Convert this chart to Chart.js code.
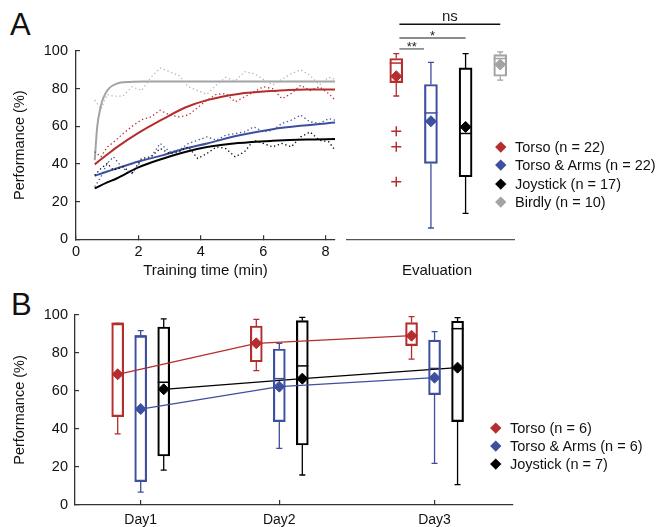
<!DOCTYPE html>
<html>
<head>
<meta charset="utf-8">
<script src="https://cdn.jsdelivr.net/npm/chart.js@4.4.0/dist/chart.umd.min.js"></script>
<style>
body { margin: 0; background: #fff; }
#wrap { position: relative; width: 661px; height: 527px; font-family: "Liberation Sans", Arial, sans-serif; color: #111; }
canvas { position: absolute; }
.panel { position: absolute; font-size: 31px; line-height: 31px; }
.lab { position: absolute; font-size: 14.5px; line-height: 18px; white-space: nowrap; }
.dia { position: absolute; width: 7.5px; height: 7.5px; transform: rotate(45deg); }
</style>
</head>
<body>
<div id="wrap">
  <div class="panel" style="left:10px; top:8.6px;">A</div>
  <div class="panel" style="left:11px; top:289.3px;">B</div>
  <canvas id="aLine" width="340" height="280" style="left:0; top:0;"></canvas>
  <canvas id="aBox" width="321" height="280" style="left:340px; top:0;"></canvas>
  <canvas id="bBox" width="661" height="247" style="left:0; top:280px;"></canvas>
  <div class="lab" style="left:437px; top:261px; font-size:15px; transform:translateX(-50%);">Evaluation</div>
</div>
<script>
// Panel A, learning curves (fit = solid, raw = dotted)
const fitTime = [0.6, 1, 1.3, 2, 2.8, 3.5, 4.2, 5.2, 6.3, 7.4, 8.3];
const torsoFit = [39.8, 45, 48.8, 56.5, 64, 70, 73.9, 77.2, 78.8, 79.5, 79.6];
const armsFit = [33.7, 36, 37.6, 41.3, 44.7, 48.2, 50.9, 55.1, 58.5, 60.6, 62];
const joyFit = [27, 30.2, 32.3, 38.2, 42.9, 46.4, 49, 51.1, 52.3, 53, 53.2];
const birdTime = [0.6, 0.68, 0.79, 0.89, 1.05, 1.31, 1.73, 2.2, 8.3];
const birdFit = [42, 59.7, 70.3, 75.6, 80, 82.7, 83.6, 83.8, 83.8];

const rawTime = [0.6, 0.8, 1.0, 1.2, 1.5, 1.8, 2.1, 2.4, 2.7, 3.0, 3.3, 3.6, 3.9, 4.2, 4.5, 4.8, 5.1, 5.4, 5.7, 6.0, 6.3, 6.6, 6.9, 7.2, 7.5, 7.8, 8.1, 8.3];
const birdRaw = [74, 69, 77, 76, 76, 81, 79, 86, 91, 89, 87, 81, 79, 77, 82, 86, 84, 89, 88, 85, 82, 85, 88, 90, 87, 82, 86, 85];
const torsoRaw = [46.5, 43.8, 49, 51.5, 56, 60, 63.5, 65, 68.5, 66, 65, 66, 70, 73.9, 77, 77.4, 73, 75.6, 78.3, 81, 80, 74.7, 77.4, 81.8, 79, 81, 77.4, 73.9];
const armsRaw = [27.9, 33.2, 40.3, 43.8, 37.6, 35, 42, 43.8, 50.9, 46.5, 47.3, 50.9, 52.6, 54.4, 52.6, 55.3, 56.2, 57, 59.7, 57, 58, 61.5, 63.3, 65.9, 62.4, 61.5, 64.1, 63.3];
const joyRaw = [34, 37.6, 40.3, 36.7, 38.5, 35, 42.9, 43.8, 48.2, 45.6, 46.5, 49.1, 42.9, 45.6, 49.1, 48.2, 43.8, 46.5, 52.6, 50.9, 49.1, 50.9, 49.1, 54.4, 57, 52.6, 51.8, 47.3];

// Panel A, evaluation box plots
const evalLegend = ['Torso (n = 22)', 'Torso & Arms (n = 22)', 'Joystick (n = 17)', 'Birdly (n = 10)'];
const evalMin = [76.1, 6.0, 13.8, 84.5];
const evalQ1 = [83.2, 40.3, 33.2, 86.6];
const evalMed = [93.6, 67.1, 56.2, 96];
const evalQ3 = [96, 82.2, 91, 98.1];
const evalMax = [98.6, 94, 98.6, 99.5];
const evalMean = [86.6, 62.7, 59.7, 92.8];
const torsoOutliers = [57.4, 49.1, 30.5];

// Panel B, per day
const dayLabels = ['Day1', 'Day2', 'Day3'];
const dayPos = [1, 2, 3.12];
const dayLegend = ['Torso (n = 6)', 'Torso & Arms (n = 6)', 'Joystick (n = 7)'];
const torsoMinB = [37.4, 70.7, 76.8];
const torsoQ1B = [46.5, 75.4, 83.9];
const torsoMedB = [95.6, 85, 89];
const torsoQ3B = [95.6, 94.2, 96];
const torsoMaxB = [95.6, 97.7, 99.1];
const torsoMeanB = [68.8, 85.1, 89.1];
const armsMinB = [6.8, 29.8, 21.9];
const armsQ1B = [12.3, 43.9, 58.1];
const armsMedB = [89, 66.5, 71.9];
const armsQ3B = [89, 82.1, 86.8];
const armsMaxB = [91.8, 85.1, 91.2];
const armsMeanB = [50.5, 62.3, 67];
const joyMinB = [18.4, 15.8, 10.7];
const joyQ1B = [25.8, 31.6, 43.9];
const joyMedB = [64.6, 73.2, 92.8];
const joyQ3B = [93.7, 97, 96.7];
const joyMaxB = [98, 98.8, 98.6];
const joyMeanB = [60.9, 66.5, 72.3];

const RED = '#b52d2d', BLUE = '#3d4f9f', BLACK = '#000000', GRAY = '#a3a3a3', LGRAY = '#b5b5b5';
const evalColors = [RED, BLUE, BLACK, GRAY];

Chart.defaults.font.family = '"Liberation Sans", Arial, sans-serif';
Chart.defaults.font.size = 14;
Chart.defaults.color = '#111';
Chart.defaults.animation = false;
Chart.defaults.plugins.legend.display = false;
Chart.defaults.plugins.tooltip.enabled = false;

function pts(xs, ys) {
    return xs.map((x, i) => ({ x: x, y: ys[i] }));
}

function fitLine(xs, ys, color) {
    return { data: pts(xs, ys), borderColor: color, borderWidth: 2, pointRadius: 0, cubicInterpolationMode: 'monotone' };
}

function rawLine(ys, color) {
    return { data: pts(rawTime, ys), borderColor: color, borderWidth: 1.3, borderDash: [1.3, 2.7], pointRadius: 0, tension: 0 };
}

// whiskers, caps and medians, drawn with the chart's scales
const boxPlugin = {
    id: 'boxWhiskers',
    beforeDatasetsDraw(chart, args, opts) {
        const ctx = chart.ctx, x = chart.scales.x, y = chart.scales.y;
        ctx.save();
        opts.boxes.forEach(b => {
            const px = x.getPixelForValue(b.x);
            const yMax = y.getPixelForValue(b.max), yMin = y.getPixelForValue(b.min);
            ctx.strokeStyle = b.color;
            ctx.lineWidth = 1.3;
            ctx.beginPath();
            ctx.moveTo(px, y.getPixelForValue(b.q3)); ctx.lineTo(px, yMax);
            ctx.moveTo(px, y.getPixelForValue(b.q1)); ctx.lineTo(px, yMin);
            ctx.moveTo(px - opts.cap, yMax); ctx.lineTo(px + opts.cap, yMax);
            ctx.moveTo(px - opts.cap, yMin); ctx.lineTo(px + opts.cap, yMin);
            ctx.stroke();
            const yMed = y.getPixelForValue(b.med);
            ctx.lineWidth = 1.5;
            ctx.beginPath();
            ctx.moveTo(px - opts.half, yMed); ctx.lineTo(px + opts.half, yMed);
            ctx.stroke();
        });
        ctx.restore();
    }
};

// significance brackets above the evaluation boxes (from/to in box units)
const sigBars = [
    { from: 1.09, to: 1.8, level: 101.1, label: '**', color: '#666', size: 13, dy: 2 },
    { from: 1.09, to: 3, level: 106.9, label: '*', color: '#666', size: 13, dy: 2 },
    { from: 1.09, to: 4, level: 114.2, label: 'ns', color: '#111', size: 15, dy: -3.4 }
];
const sigPlugin = {
    id: 'sig',
    afterDraw(chart) {
        const ctx = chart.ctx, x = chart.scales.x, y = chart.scales.y;
        ctx.save();
        sigBars.forEach(s => {
            const x1 = x.getPixelForValue(s.from), x2 = x.getPixelForValue(s.to);
            const py = y.getPixelForValue(s.level);
            ctx.strokeStyle = s.color;
            ctx.lineWidth = 1.3;
            ctx.beginPath();
            ctx.moveTo(x1, py); ctx.lineTo(x2, py);
            ctx.stroke();
            ctx.fillStyle = '#222';
            ctx.font = s.size + 'px "Liberation Sans", Arial, sans-serif';
            ctx.textAlign = 'center';
            ctx.textBaseline = 'alphabetic';
            ctx.fillText(s.label, (x1 + x2) / 2, py + s.dy);
        });
        ctx.restore();
    }
};

const yTicks = { stepSize: 20, padding: 12, color: '#111', font: { size: 14.5 } };
const inwardGrid = { display: true, drawOnChartArea: false, drawTicks: true, tickLength: -4, color: '#333', lineWidth: 1.2, offset: false };

// ---- Panel A: training curves
new Chart(document.getElementById('aLine'), {
    type: 'line',
    data: {
        datasets: [
            rawLine(birdRaw, LGRAY), rawLine(torsoRaw, RED), rawLine(armsRaw, BLUE), rawLine(joyRaw, BLACK),
            fitLine(birdTime, birdFit, GRAY), fitLine(fitTime, torsoFit, RED),
            fitLine(fitTime, armsFit, BLUE), fitLine(fitTime, joyFit, BLACK)
        ]
    },
    options: {
        responsive: false,
        layout: { padding: { top: 51, right: 5, left: 0, bottom: 0 } },
        scales: {
            x: {
                type: 'linear', min: 0, max: 8.3,
                ticks: { stepSize: 2, includeBounds: false, padding: 8, maxRotation: 0, font: { size: 14.5 } },
                grid: inwardGrid,
                border: { color: '#333', width: 1.3 },
                title: { display: true, text: 'Training time (min)', padding: 0, font: { size: 15 } },
                afterFit: s => { s.height = 40.7; }
            },
            y: {
                min: 0, max: 100,
                ticks: yTicks,
                grid: inwardGrid,
                border: { color: '#333', width: 1.3 },
                title: { display: true, text: 'Performance (%)', padding: { top: 11 }, font: { size: 14.5 } },
                afterFit: s => { s.width = 76; }
            }
        }
    }
});

// ---- Panel A: evaluation
const evalX = evalMin.map((v, i) => i + 1);
new Chart(document.getElementById('aBox'), {
    type: 'bar',
    data: {
        datasets: [
            {
                data: evalX.map((x, i) => ({ x: x, y: [evalQ1[i], evalQ3[i]] })),
                backgroundColor: 'rgba(0,0,0,0)', borderColor: evalColors, borderWidth: 1.5,
                borderSkipped: false, barThickness: 13
            },
            {
                type: 'scatter', data: pts(evalX, evalMean), pointStyle: 'rectRot', pointRadius: 5.5,
                backgroundColor: evalColors, borderColor: evalColors, borderWidth: 1
            },
            {
                type: 'scatter', data: torsoOutliers.map(v => ({ x: 1, y: v })), pointStyle: 'cross',
                pointRadius: 5, borderColor: RED, borderWidth: 1.5
            }
        ]
    },
    options: {
        responsive: false,
        layout: { padding: { top: 51, right: 147, left: 0, bottom: 0 } },
        plugins: {
            boxWhiskers: {
                half: 6.5, cap: 3,
                boxes: evalX.map((x, i) => ({ x: x, min: evalMin[i], q1: evalQ1[i], med: evalMed[i], q3: evalQ3[i], max: evalMax[i], color: evalColors[i] }))
            }
        },
        scales: {
            x: {
                type: 'linear', min: -0.436, max: 4.397, offset: false,
                ticks: { display: false },
                grid: { display: false, offset: false },
                border: { color: '#555', width: 1.3 },
                afterFit: s => { s.height = 40.7; }
            },
            y: { min: 0, max: 100, display: false }
        }
    },
    plugins: [boxPlugin, sigPlugin]
});

// ---- Panel B: per day
const groupOffset = [-0.166, 0, 0.166];
const groups = [
    { color: RED, min: torsoMinB, q1: torsoQ1B, med: torsoMedB, q3: torsoQ3B, max: torsoMaxB, mean: torsoMeanB },
    { color: BLUE, min: armsMinB, q1: armsQ1B, med: armsMedB, q3: armsQ3B, max: armsMaxB, mean: armsMeanB },
    { color: BLACK, min: joyMinB, q1: joyQ1B, med: joyMedB, q3: joyQ3B, max: joyMaxB, mean: joyMeanB }
];
const bDatasets = [];
const bBoxes = [];
groups.forEach((g, gi) => {
    const xs = dayPos.map(d => d + groupOffset[gi]);
    bDatasets.push({
        data: xs.map((x, i) => ({ x: x, y: [g.q1[i], g.q3[i]] })),
        backgroundColor: 'rgba(0,0,0,0)', borderColor: g.color, borderWidth: 1.5,
        borderSkipped: false, barThickness: 12, grouped: false
    });
    bDatasets.push({
        type: 'line', data: pts(xs, g.mean), borderColor: g.color, borderWidth: 1.3,
        pointStyle: 'rectRot', pointRadius: 5.5, pointBackgroundColor: g.color, pointBorderColor: g.color, pointBorderWidth: 1
    });
    xs.forEach((x, i) => bBoxes.push({ x: x, min: g.min[i], q1: g.q1[i], med: g.med[i], q3: g.q3[i], max: g.max[i], color: g.color }));
});

new Chart(document.getElementById('bBox'), {
    type: 'bar',
    data: { datasets: bDatasets },
    options: {
        responsive: false,
        layout: { padding: { top: 35, right: 148, left: 0, bottom: 0 } },
        plugins: { boxWhiskers: { half: 6, cap: 3, boxes: bBoxes } },
        scales: {
            x: {
                type: 'linear', min: 0.526, max: 3.686, offset: false,
                afterBuildTicks: s => { s.ticks = dayPos.map(v => ({ value: v })); },
                ticks: { callback: (v, i) => dayLabels[i], padding: 12, maxRotation: 0, autoSkip: false, font: { size: 14 } },
                grid: { display: true, drawOnChartArea: false, drawTicks: true, tickLength: -5, color: '#333', lineWidth: 1.2, offset: false },
                border: { color: '#333', width: 1.3 },
                afterFit: s => { s.height = 22; }
            },
            y: {
                min: 0, max: 100,
                ticks: { stepSize: 20, padding: 11, color: '#111', font: { size: 14.5 } },
                grid: inwardGrid,
                border: { color: '#333', width: 1.3 },
                title: { display: true, text: 'Performance (%)', padding: { top: 11 }, font: { size: 14.5 } },
                afterFit: s => { s.width = 75; }
            }
        }
    },
    plugins: [boxPlugin]
});

// HTML legends with diamond markers
function makeLegend(cx, textX, y0, step, names, colors) {
    const wrap = document.getElementById('wrap');
    names.forEach((name, i) => {
        const cy = y0 + i * step;
        const d = document.createElement('div');
        d.className = 'dia';
        d.style.left = (cx - 3.75) + 'px';
        d.style.top = (cy - 3.75) + 'px';
        d.style.background = colors[i];
        wrap.appendChild(d);
        const t = document.createElement('div');
        t.className = 'lab';
        t.style.left = textX + 'px';
        t.style.top = (cy - 9) + 'px';
        t.textContent = name;
        wrap.appendChild(t);
    });
}
makeLegend(501, 515, 146.7, 18.5, evalLegend, evalColors);
makeLegend(496, 510, 427.7, 18, dayLegend, [RED, BLUE, BLACK]);
</script>
</body>
</html>
